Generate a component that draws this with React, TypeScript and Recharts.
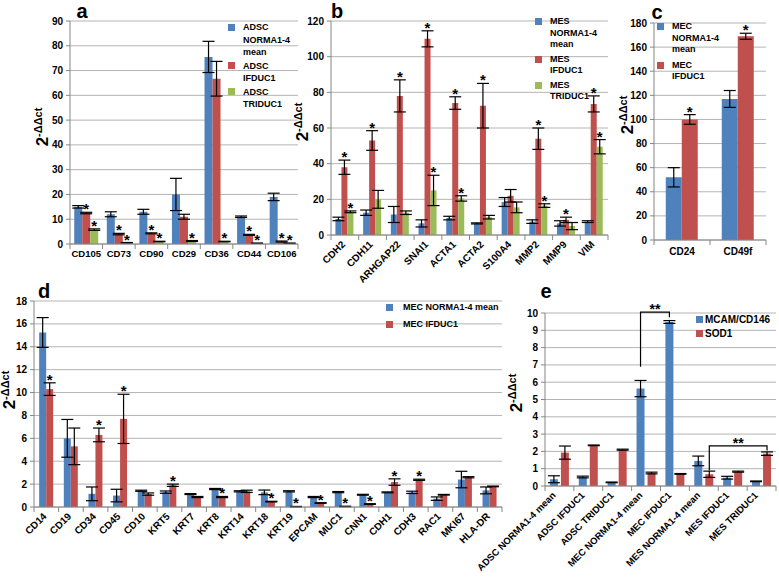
import React from 'react';
import { BarChart, Bar, XAxis, YAxis, CartesianGrid, ErrorBar, LabelList, Legend } from 'recharts';

const BLUE = '#4f81bd';
const RED = '#c0504d';
const GREEN = '#9bbb59';
const GRID = '#b4b4b4';
const AXIS = '#868686';
const FONT = '"Liberation Sans", Arial, Helvetica, sans-serif';

// ---- panel a: ADSC
const aCategories = ['CD105', 'CD73', 'CD90', 'CD29', 'CD36', 'CD44', 'CD106'];
const aNorm = [15, 12, 13, 20, 75.5, 11, 19];
const aNormErr = [0.5, 1, 1, 6.5, 6.3, 0.3, 1.5];
const aIfduc = [12.5, 4, 4.3, 11, 66.7, 3.7, 1];
const aIfducErr = [0.3, 0.3, 0.2, 1, 7, 0.2, 0.2];
const aIfducStar = [1, 1, 1, 0, 0, 1, 1];
const aTriduc = [5.8, 0.5, 1, 1.2, 1, 0.3, 0.3];
const aTriducErr = [0.3, 0.1, 0.1, 0.2, 0.1, 0.05, 0.05];
const aTriducStar = [1, 1, 1, 1, 1, 1, 1];
const aTicks = [0, 10, 20, 30, 40, 50, 60, 70, 80, 90];

// ---- panel b: MES
const bCategories = ['CDH2', 'CDH11', 'ARHGAP22', 'SNAI1', 'ACTA1', 'ACTA2', 'S100A4', 'MMP2', 'MMP9', 'VIM'];
const bNorm = [9, 12.5, 11.5, 6.5, 9.5, 6.5, 18.5, 7.5, 6.5, 7.5];
const bNormErr = [1, 1.5, 4.5, 2, 1, 0.3, 2.5, 1, 1.5, 0.5];
const bIfduc = [38, 53, 78, 110, 74, 72.5, 22, 54, 8.5, 73.5];
const bIfducErr = [4, 5.5, 9, 4.5, 3.5, 12.5, 3.5, 6, 1.5, 4.5];
const bIfducStar = [1, 1, 1, 1, 1, 1, 0, 1, 1, 1];
const bTriduc = [13, 20, 12.5, 25, 20.5, 10, 15.5, 16.5, 5, 49.5];
const bTriducErr = [0.5, 5, 1, 8.5, 1.5, 1, 3, 1, 2, 4];
const bTriducStar = [1, 0, 0, 1, 1, 0, 0, 1, 0, 1];
const bTicks = [0, 20, 40, 60, 80, 100, 120];

// ---- panel c: MEC CD24 / CD49f
const cCategories = ['CD24', 'CD49f'];
const cNorm = [52, 117];
const cNormErr = [8, 7];
const cIfduc = [100, 169];
const cIfducErr = [4, 2.5];
const cIfducStar = [1, 1];
const cTicks = [0, 20, 40, 60, 80, 100, 120, 140, 160, 180];

// ---- panel d: MEC markers
const dCategories = ['CD14', 'CD19', 'CD34', 'CD45', 'CD10', 'KRT5', 'KRT7', 'KRT8', 'KRT14', 'KRT18',
  'KRT19', 'EPCAM', 'MUC1', 'CNN1', 'CDH1', 'CDH3', 'RAC1', 'MKI67', 'HLA-DR'];
const dNorm = [15.25, 6.0, 1.15, 1.0, 1.42, 1.3, 1.13, 1.57, 1.37, 1.28, 1.37, 0.87, 1.3, 1.07, 1.28, 1.28, 0.73, 2.4, 1.45];
const dNormErr = [1.3, 1.65, 0.6, 0.55, 0.05, 0.1, 0.04, 0.05, 0.05, 0.2, 0.05, 0.05, 0.05, 0.04, 0.04, 0.1, 0.15, 0.72, 0.3];
const dIfduc = [10.3, 5.3, 6.3, 7.7, 1.13, 1.9, 0.87, 0.87, 1.37, 0.47, 0.03, 0.35, 0.05, 0.26, 2.18, 2.38, 1.07, 2.6, 1.8];
const dIfducErr = [0.55, 1.6, 0.6, 2.15, 0.1, 0.1, 0.05, 0.05, 0.1, 0.03, 0.02, 0.03, 0.02, 0.03, 0.28, 0.05, 0.03, 0.05, 0.03];
const dIfducStar = [1, 0, 1, 1, 0, 1, 0, 1, 0, 1, 1, 1, 1, 1, 1, 1, 0, 0, 0];
const dTicks = [0, 2, 4, 6, 8, 10, 12, 14, 16, 18];

// ---- panel e: MCAM/CD146 and SOD1
const eCategories = ['ADSC NORMA1-4 mean', 'ADSC IFDUC1', 'ADSC TRIDUC1', 'MEC NORMA1-4 mean', 'MEC IFDUC1',
  'MES NORMA1-4 mean', 'MES IFDUC1', 'MES TRIDUC1'];
const eMcam = [0.39, 0.52, 0.21, 5.63, 9.48, 1.45, 0.48, 0.27];
const eMcamErr = [0.2, 0.05, 0.02, 0.47, 0.08, 0.28, 0.08, 0.02];
const eSod = [1.93, 2.35, 2.1, 0.75, 0.7, 0.68, 0.83, 1.87];
const eSodErr = [0.38, 0.02, 0.03, 0.05, 0.02, 0.18, 0.03, 0.1];
const eTicks = [0, 1, 2, 3, 4, 5, 6, 7, 8, 9, 10];
// significance brackets
const eBracketSeries = ['mcam', 'sod'];
const eBracketFrom = ['MEC NORMA1-4 mean', 'MES NORMA1-4 mean'];
const eBracketTo = ['MEC IFDUC1', 'MES TRIDUC1'];
const eBracketStart = [6.9, 0.9];
const eBracketTop = [10.05, 2.32];
const eBracketEnd = [9.75, 2.05];

const rowsA = aCategories.map((name, i) => ({
  name, norm: aNorm[i], normErr: aNormErr[i], ifd: aIfduc[i], ifdErr: aIfducErr[i], ifdStar: aIfducStar[i],
  tri: aTriduc[i], triErr: aTriducErr[i], triStar: aTriducStar[i],
}));
const rowsB = bCategories.map((name, i) => ({
  name, norm: bNorm[i], normErr: bNormErr[i], ifd: bIfduc[i], ifdErr: bIfducErr[i], ifdStar: bIfducStar[i],
  tri: bTriduc[i], triErr: bTriducErr[i], triStar: bTriducStar[i],
}));
const rowsC = cCategories.map((name, i) => ({
  name, norm: cNorm[i], normErr: cNormErr[i], ifd: cIfduc[i], ifdErr: cIfducErr[i], ifdStar: cIfducStar[i],
}));
const rowsD = dCategories.map((name, i) => ({
  name, norm: dNorm[i], normErr: dNormErr[i], ifd: dIfduc[i], ifdErr: dIfducErr[i], ifdStar: dIfducStar[i],
}));
const rowsE = eCategories.map((name, i) => ({
  name, mcam: eMcam[i], mcamErr: eMcamErr[i], sod: eSod[i], sodErr: eSodErr[i],
}));

type Lay = {
  left: number; top: number; width: number; height: number;
  px: number; py: number; pw: number; ph: number; yW: number; xH: number; yMax: number;
};

const layA: Lay = { left: 0, top: 0, width: 310, height: 290, px: 70, py: 21, pw: 228, ph: 223, yW: 30, xH: 20, yMax: 90 };
const layB: Lay = { left: 300, top: 0, width: 320, height: 300, px: 331, py: 21, pw: 277, ph: 214, yW: 26, xH: 60, yMax: 120 };
const layC: Lay = { left: 620, top: 0, width: 159, height: 290, px: 654, py: 23, pw: 112, ph: 217, yW: 30, xH: 20, yMax: 180 };
const layD: Lay = { left: 0, top: 290, width: 510, height: 287, px: 34, py: 301, pw: 468, ph: 206, yW: 24, xH: 60, yMax: 18 };
const layE: Lay = { left: 455, top: 290, width: 324, height: 287, px: 545, py: 313, pw: 231, ph: 173, yW: 22, xH: 85, yMax: 10 };

// Excel style category axis: tick marks between categories, label centred or rotated
const makeXTick = (n: number, bw: number, rotated: boolean, dx: number, dy: number, fs: number) => (p: any) => {
  const x = Number(p.x);
  const y = Number(p.y);
  const lx = x + dx;
  const ly = y + dy;
  return (
    <g>
      <line x1={x - bw / 2} x2={x - bw / 2} y1={y} y2={y + 5} stroke={AXIS} />
      {p.index === n - 1 && <line x1={x + bw / 2} x2={x + bw / 2} y1={y} y2={y + 5} stroke={AXIS} />}
      {rotated ? (
        <g transform={`translate(${lx},${ly}) rotate(-45)`}>
          <text x={0} y={0} textAnchor="end" fontSize={fs} fontWeight="bold" fontFamily={FONT} fill="#000">
            {p.payload.value}
          </text>
        </g>
      ) : (
        <text x={lx} y={ly} textAnchor="middle" fontSize={fs} fontWeight="bold" fontFamily={FONT} fill="#000">
          {p.payload.value}
        </text>
      )}
    </g>
  );
};

const makeStars = (rows: any[], key: string, errKey: string, starKey: string, ppu: number) => (p: any) => {
  const i = p.index ?? rows.findIndex((r) => r.name === p.payload?.name);
  const row = rows[i];
  if (!row || !row[starKey]) return null;
  const vb = p.viewBox || p;
  const cx = Number(vb.x) + Number(vb.width) / 2;
  const base = Number(vb.y) + Number(vb.height);
  const top = base - (row[key] + row[errKey]) * ppu;
  return (
    <text key={`st-${key}-${i}`} x={cx} y={top + 2} textAnchor="middle" fontSize={15} fontWeight="bold"
      fontFamily={FONT} fill="#000">*</text>
  );
};

const makeBrackets = (key: string, bw: number, ppu: number) => (p: any) => {
  const i = p.index;
  const b = eBracketSeries.findIndex((s, j) => s === key && eCategories.indexOf(eBracketFrom[j]) === i);
  if (b < 0) return null;
  const span = eCategories.indexOf(eBracketTo[b]) - eCategories.indexOf(eBracketFrom[b]);
  const vb = p.viewBox || p;
  const x1 = Number(vb.x) + Number(vb.width) / 2;
  const x2 = x1 + span * bw;
  const base = Number(vb.y) + Number(vb.height);
  const yS = base - eBracketStart[b] * ppu;
  const yT = base - eBracketTop[b] * ppu;
  const yE = base - eBracketEnd[b] * ppu;
  return (
    <g key={`br-${key}-${i}`}>
      <path d={`M${x1},${yS}V${yT}H${x2}V${yE}`} stroke="#000" strokeWidth={1.2} fill="none" />
      <text x={(x1 + x2) / 2} y={yT + 2} textAnchor="middle" fontSize={14} fontWeight="bold" fontFamily={FONT}
        fill="#000">**</text>
    </g>
  );
};

// legend keeps the series order (Recharts sorts by name otherwise)
const makeLegend = (order: string[], fs: number, lh: number, gap: number, sqGap: number) => (props: any) => {
  const items = [...(props.payload || [])].sort((u: any, v: any) => order.indexOf(u.dataKey) - order.indexOf(v.dataKey));
  return (
    <div style={{ fontFamily: FONT, fontSize: fs, fontWeight: 'bold', lineHeight: `${lh}px`, color: '#000' }}>
      {items.map((e: any, i: number) => (
        <div key={i} style={{ display: 'flex', alignItems: 'flex-start', marginBottom: gap }}>
          <span style={{ width: 7, height: 7, background: e.color, marginTop: (lh - 7) / 2, marginRight: sqGap, flexShrink: 0 }} />
          <span style={{ whiteSpace: 'pre-line' }}>{e.value}</span>
        </div>
      ))}
    </div>
  );
};

type Series = { key: string; name: string; color: string; errKey: string; starKey?: string; bracket?: boolean };

const Panel: React.FC<{
  lay: Lay; rows: any[]; series: Series[]; ticks: number[]; tick: any;
  legendStyle: React.CSSProperties; legend: any; catGap: string; barGap: number;
}> = ({ lay, rows, series, ticks, tick, legendStyle, legend, catGap, barGap }) => {
  const ppu = lay.ph / lay.yMax;
  const bw = lay.pw / rows.length;
  return (
    <div style={{ position: 'absolute', left: lay.left, top: lay.top }}>
      <BarChart
        width={lay.width}
        height={lay.height}
        data={rows}
        barCategoryGap={catGap}
        barGap={barGap}
        margin={{
          top: lay.py - lay.top,
          left: lay.px - lay.left - lay.yW,
          right: lay.left + lay.width - lay.px - lay.pw,
          bottom: lay.top + lay.height - lay.py - lay.ph - lay.xH,
        }}
      >
        <CartesianGrid vertical={false} stroke={GRID} />
        <XAxis dataKey="name" interval={0} tickLine={false} tickSize={0} tickMargin={0} height={lay.xH}
          stroke={AXIS} tick={tick} />
        <YAxis width={lay.yW} domain={[0, lay.yMax]} ticks={ticks} interval={0} tickSize={4} tickMargin={3}
          stroke={AXIS} tick={{ fill: '#000', fontSize: 10, fontWeight: 'bold', fontFamily: FONT }} />
        <Legend layout="vertical" align="center" verticalAlign="middle" wrapperStyle={legendStyle} content={legend} />
        {series.map((s) => (
          <Bar key={s.key} dataKey={s.key} name={s.name} fill={s.color} isAnimationActive={false}>
            <ErrorBar dataKey={s.errKey} width={6} stroke="#000" strokeWidth={1.2} />
            {s.starKey && <LabelList dataKey={s.key} content={makeStars(rows, s.key, s.errKey, s.starKey, ppu)} />}
            {s.bracket && <LabelList dataKey={s.key} content={makeBrackets(s.key, bw, ppu)} />}
          </Bar>
        ))}
      </BarChart>
    </div>
  );
};

const YLabel: React.FC<{ x: number; y: number }> = ({ x, y }) => (
  <div style={{
    position: 'absolute', left: x, top: y, transform: 'translate(-50%, -50%) rotate(-90deg)',
    whiteSpace: 'nowrap', fontFamily: FONT, fontWeight: 'bold', color: '#000', lineHeight: 1,
  }}>
    <span style={{ fontSize: 17 }}>2</span>
    <span style={{ fontSize: 11, position: 'relative', top: -6 }}>-ΔΔct</span>
  </div>
);

const Title: React.FC<{ x: number; y: number; t: string }> = ({ x, y, t }) => (
  <div style={{
    position: 'absolute', left: x, top: y, transform: 'translate(-50%, -50%)', fontFamily: FONT,
    fontWeight: 'bold', fontSize: 20, lineHeight: 1, color: '#000',
  }}>{t}</div>
);

const App: React.FC = () => (
  <div style={{ position: 'absolute', left: 0, top: 0, width: 779, height: 577, background: '#fff', overflow: 'hidden' }}>
    <Panel
      lay={layA} rows={rowsA} ticks={aTicks} catGap="13%" barGap={0}
      tick={makeXTick(rowsA.length, layA.pw / rowsA.length, false, 0, 13, 9.5)}
      series={[
        { key: 'norm', name: 'ADSC\nNORMA1-4\nmean', color: BLUE, errKey: 'normErr' },
        { key: 'ifd', name: 'ADSC\nIFDUC1', color: RED, errKey: 'ifdErr', starKey: 'ifdStar' },
        { key: 'tri', name: 'ADSC\nTRIDUC1', color: GREEN, errKey: 'triErr', starKey: 'triStar' },
      ]}
      legendStyle={{ left: 228, top: 21, width: 78 }}
      legend={makeLegend(['norm', 'ifd', 'tri'], 9, 12.5, 1, 8)}
    />
    <Panel
      lay={layB} rows={rowsB} ticks={bTicks} catGap="16%" barGap={0}
      tick={makeXTick(rowsB.length, layB.pw / rowsB.length, true, 1, 10, 10)}
      series={[
        { key: 'norm', name: 'MES\nNORMA1-4\nmean', color: BLUE, errKey: 'normErr' },
        { key: 'ifd', name: 'MES\nIFDUC1', color: RED, errKey: 'ifdErr', starKey: 'ifdStar' },
        { key: 'tri', name: 'MES\nTRIDUC1', color: GREEN, errKey: 'triErr', starKey: 'triStar' },
      ]}
      legendStyle={{ left: 235, top: 16, width: 80 }}
      legend={makeLegend(['norm', 'ifd', 'tri'], 9, 11.5, 3, 8)}
    />
    <Panel
      lay={layC} rows={rowsC} ticks={cTicks} catGap="21%" barGap={0}
      tick={makeXTick(rowsC.length, layC.pw / rowsC.length, false, 0, 15, 10)}
      series={[
        { key: 'norm', name: 'MEC\nNORMA1-4\nmean', color: BLUE, errKey: 'normErr' },
        { key: 'ifd', name: 'MEC\nIFDUC1', color: RED, errKey: 'ifdErr', starKey: 'ifdStar' },
      ]}
      legendStyle={{ left: 37, top: 21, width: 80 }}
      legend={makeLegend(['norm', 'ifd'], 9, 11.5, 4, 8)}
    />
    <Panel
      lay={layD} rows={rowsD} ticks={dTicks} catGap="21%" barGap={0}
      tick={makeXTick(rowsD.length, layD.pw / rowsD.length, true, 1, 10, 10)}
      series={[
        { key: 'norm', name: 'MEC NORMA1-4 mean', color: BLUE, errKey: 'normErr' },
        { key: 'ifd', name: 'MEC IFDUC1', color: RED, errKey: 'ifdErr', starKey: 'ifdStar' },
      ]}
      legendStyle={{ left: 386, top: 11, width: 120 }}
      legend={makeLegend(['norm', 'ifd'], 9, 12, 5, 10)}
    />
    <Panel
      lay={layE} rows={rowsE} ticks={eTicks} catGap="17%" barGap={3}
      tick={makeXTick(rowsE.length, layE.pw / rowsE.length, true, -3, 10, 9.5)}
      series={[
        { key: 'mcam', name: 'MCAM/CD146', color: BLUE, errKey: 'mcamErr', bracket: true },
        { key: 'sod', name: 'SOD1', color: RED, errKey: 'sodErr', bracket: true },
      ]}
      legendStyle={{ left: 241, top: 23, width: 85 }}
      legend={makeLegend(['mcam', 'sod'], 10, 13, 1, 2)}
    />
    <YLabel x={42} y={127} />
    <YLabel x={302} y={122} />
    <YLabel x={627} y={115} />
    <YLabel x={9} y={390} />
    <YLabel x={516} y={393} />
    <Title x={82} y={11} t="a" />
    <Title x={337} y={11} t="b" />
    <Title x={657} y={12} t="c" />
    <Title x={44} y={291} t="d" />
    <Title x={546} y={291} t="e" />
  </div>
);

export default App;
